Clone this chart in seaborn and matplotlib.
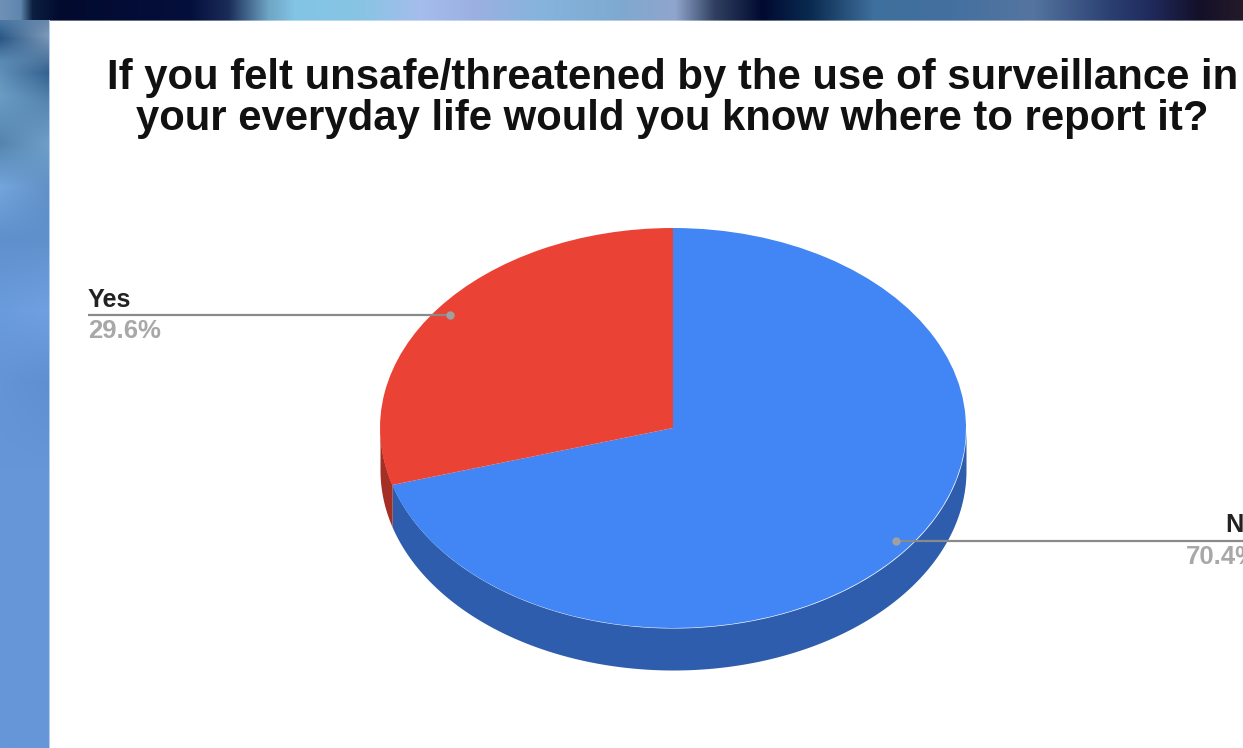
import numpy as np
import matplotlib
matplotlib.use("Agg")
import matplotlib.pyplot as plt
from matplotlib.colors import to_rgb
import seaborn as sns

categories = ["No", "Yes"]
values = [70.4, 29.6]
value_labels = ["70.4%", "29.6%"]
title_lines = ["If you felt unsafe/threatened by the use of surveillance in",
               "your everyday life would you know where to report it?"]
top_colors = ["#4285f4", "#ea4335"]
side_colors = ["#2d5dac", "#a32f25"]

W, H = 1243, 748
sns.set_theme(style="white")
plt.rcParams["font.family"] = ["Liberation Sans", "DejaVu Sans"]
fig = plt.figure(figsize=(W / 100, H / 100), dpi=100)


def ramp(stops, n):
    pos = [s[0] for s in stops]
    rgb = np.array([to_rgb(s[1]) for s in stops])
    return np.stack([np.interp(np.arange(n), pos, rgb[:, i]) for i in range(3)], axis=1)


# photographic backdrop behind the white slide
top_band = ramp([(0, "#6f90b6"), (20, "#5f86ae"), (32, "#0c2040"), (60, "#020a2e"), (190, "#050f3c"),
                 (228, "#1a2c58"), (268, "#6fa4c4"), (294, "#82c4e4"), (360, "#88c4e4"), (420, "#a5bdec"),
                 (476, "#9bb0e0"), (540, "#85b4dc"), (620, "#7fa9d0"), (675, "#90a5cc"), (714, "#304060"),
                 (762, "#010a30"), (810, "#0a2a50"), (873, "#3f6f9c"), (952, "#44709f"), (1032, "#5575a0"),
                 (1111, "#2a3f70"), (1150, "#202a5c"), (1198, "#14102a"), (1242, "#241a28")], W)
left_a = ramp([(0, "#6f90b6"), (20, "#4a78a4"), (38, "#2a5585"), (60, "#5a8ab2"), (95, "#6b9cc4"),
               (143, "#5585ae"), (186, "#74a5dc"), (238, "#6090cc"), (310, "#6a9bdc"), (381, "#6494d4"),
               (470, "#6796d8"), (747, "#6796d9")], H)
left_b = ramp([(0, "#4a6c98"), (35, "#7f9cba"), (72, "#33608f"), (100, "#5585ae"), (143, "#70a0c8"),
               (186, "#6090c6"), (238, "#6090cc"), (310, "#70a0e0"), (381, "#5f8fd0"), (470, "#6796d8"),
               (747, "#6796d9")], H)
mix = np.linspace(0, 1, 50)[None, :, None]
bg = np.ones((H, W, 3))
bg[:, :50] = left_a[:, None, :] * (1 - mix) + left_b[:, None, :] * mix
bg[:20] = top_band[None, :, :]
bg[20, 50:] = top_band[None, 50:, :] * 0.6 + 0.4
bg[20:, 49] = np.array(to_rgb("#b6cdf0"))

ax_bg = fig.add_axes([0, 0, 1, 1], zorder=0)
ax_bg.imshow(bg, extent=(0, W, H, 0), aspect="auto", interpolation="bilinear")
ax_bg.set_axis_off()

# tilted pie: a unit pie squeezed by the shape of its axes
RX, RY, CX, CY, DEPTH = 293, 200, 673, 428, 42
ax = fig.add_axes([(CX - 1.25 * RX) / W, 1 - (CY + 1.25 * RY) / H, 2.5 * RX / W, 2.5 * RY / H], zorder=1)
ax.patch.set_alpha(0)
depth = DEPTH / RY
fractions = np.array(values) / sum(values)
edges = 90 - 360 * np.concatenate([[0], np.cumsum(fractions)])
for i in range(len(values)):
    hi, lo = edges[i], edges[i + 1]
    t = np.radians(np.linspace(lo, hi, 1200))
    t = t[np.sin(t) <= 0]
    if t.size:
        x = np.cos(t)
        order = np.argsort(x)
        ax.fill_between(x[order], np.sin(t[order]) - depth, np.sin(t[order]),
                        color=side_colors[i], lw=0, zorder=1)
ax.pie(values, colors=top_colors, startangle=90, counterclock=False, radius=1,
       wedgeprops={"linewidth": 0, "zorder": 2})
ax.set_xlim(-1.25, 1.25)
ax.set_ylim(-1.25, 1.25)
ax.set_aspect("auto")

# overlay in pixel coordinates for title and callouts
ov = fig.add_axes([0, 0, 1, 1], zorder=2)
ov.set_xlim(0, W)
ov.set_ylim(H, 0)
ov.set_axis_off()
ov.patch.set_alpha(0)
ov.text(672.5, 78, title_lines[0], ha="center", va="center", fontsize=30.2, fontweight="bold", color="#111111", clip_on=True)
ov.text(672.5, 119, title_lines[1], ha="center", va="center", fontsize=30.2, fontweight="bold", color="#111111", clip_on=True)

ov.plot([88, 450], [314.5, 314.5], color="#8a8a8a", lw=1.6, solid_capstyle="butt")
ov.plot([450], [314.5], "o", color="#a0a0a0", ms=6, mew=0)
ov.text(88, 299.5, categories[1], ha="left", va="center", fontsize=18.2, fontweight="bold", color="#222222")
ov.text(88, 330.5, value_labels[1], ha="left", va="center", fontsize=18.5, fontweight="bold", color="#a8a8a8")

ov.plot([896, 1243], [541, 541], color="#8a8a8a", lw=1.6, solid_capstyle="butt")
ov.plot([896], [541], "o", color="#a0a0a0", ms=6, mew=0)
ov.text(1225, 525.5, categories[0], ha="left", va="center", fontsize=18.2, fontweight="bold", color="#222222", clip_on=True)
ov.text(1186, 556.5, value_labels[0], ha="left", va="center", fontsize=18.5, fontweight="bold", color="#a8a8a8", clip_on=True)

fig.savefig("out.png", dpi=100)
